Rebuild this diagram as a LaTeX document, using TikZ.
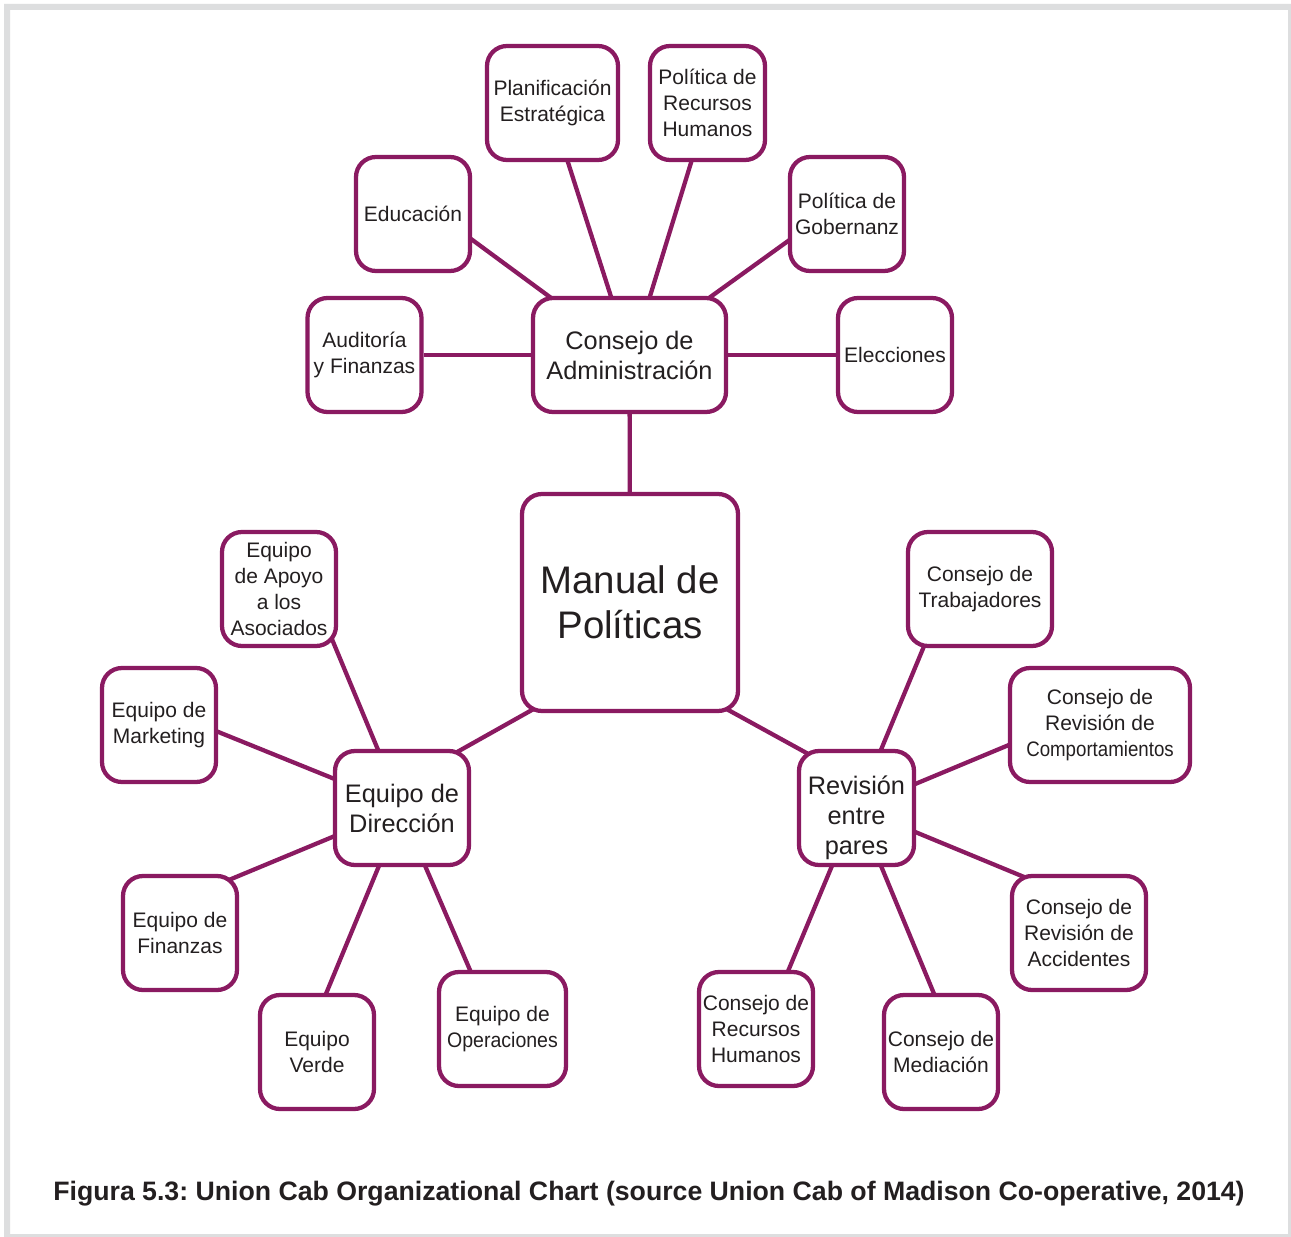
\documentclass[tikz,border=0pt]{standalone}
\usepackage{fontspec}
\usepackage{graphicx}
\usetikzlibrary{backgrounds}
\setmainfont{Liberation Sans}
\frenchspacing
\definecolor{pur}{HTML}{8A1A61}
\definecolor{txt}{HTML}{231F20}
\definecolor{frame}{HTML}{DDDEDF}
\begin{document}
\begin{tikzpicture}[x=0.75pt,y=-0.75pt,
  box/.style={draw=pur, line width=3.2pt, rounded corners=15pt, fill=white,
    align=center, inner sep=0pt, text=txt,
    minimum width=85.5pt, minimum height=85.5pt,
    font=\fontsize{15.75}{19.5}\selectfont},
  bigbox/.style={box, font=\fontsize{19}{22.5}\selectfont},
  link/.style={draw=pur, line width=3.2pt}]
\useasboundingbox (0,0) rectangle (1291,1237);

% centre and hubs
\node[box, minimum width=162pt, minimum height=162.75pt,
      font=\fontsize{28.8}{33.75}\selectfont] (man) at (630,602.5) {Manual de\\Políticas};
\node[bigbox, minimum width=144.75pt] (cons) at (629.5,355) {Consejo de\\Administración};
\node[bigbox, minimum width=100.5pt] (dir) at (402,808) {Equipo de\\Dirección};
\node[bigbox, minimum width=86.25pt] (rev) at (856.5,808)
  {\raisebox{-12.25pt}[0pt][0pt]{\begin{tabular}{@{}c@{}}Revisión\\entre\\pares\end{tabular}}};

% board committees
\node[box] (aud) at (364.5,355) {Auditoría\\y Finanzas};
\node[box] (educ) at (413,214) {Educación};
\node[box, minimum width=98.25pt] (plan) at (552.5,103) {Planificación\\Estratégica};
\node[box, minimum width=86.25pt] (polrh) at (707.5,103) {Política de\\Recursos\\Humanos};
\node[box] (gob) at (847,214) {Política de\\Gobernanz};
\node[box] (elec) at (895,355) {Elecciones};

% management teams
\node[box] (apoyo) at (279,589) {Equipo\\de Apoyo\\a los\\Asociados};
\node[box] (mkt) at (159,725) {Equipo de\\Marketing};
\node[box] (fin) at (180,933) {Equipo de\\Finanzas};
\node[box] (verde) at (317,1052) {Equipo\\Verde};
\node[box, minimum width=95.25pt] (ops) at (502.5,1029) {Equipo de\\\scalebox{0.93}[1]{Operaciones}};

% peer review councils
\node[box, minimum width=108pt] (trab) at (980,589) {Consejo de\\Trabajadores};
\node[box, minimum width=135pt] (comp) at (1100,725) {Consejo de\\Revisión de\\\scalebox{0.89}[1]{Comportamientos}};
\node[box, minimum width=100.5pt] (acc) at (1079,933) {Consejo de\\Revisión de\\Accidentes};
\node[box] (med) at (941,1052) {Consejo de\\Mediación};
\node[box] (rh) at (756,1029) {Consejo de\\Recursos\\Humanos};

% caption
\node[font=\bfseries\fontsize{20}{24}\selectfont, text=txt] (cap) at (649,1194)
  {Figura 5.3: Union Cab Organizational Chart (source Union Cab of Madison Co-operative, 2014)};

\begin{scope}[on background layer]
% page and frame
\fill[white] (0,0) rectangle (1291,1237);
\fill[frame,even odd rule] (4,4) rectangle (1291,1237) (10,10) rectangle (1288,1234);

% connectors, drawn behind the boxes
\path[link] (man) -- (cons);
\path[link] (cons) -- (aud);
\path[link] (cons) -- (elec);
\path[link] ([shift={(-71.5,-52)}]cons.center) -- ([shift={(54,22)}]educ.center);
\path[link] ([shift={(-15.5,-49)}]cons.center) -- ([shift={(12.5,50)}]plan.center);
\path[link] ([shift={(17.5,-49)}]cons.center) -- ([shift={(-13.5,50)}]polrh.center);
\path[link] ([shift={(72.5,-52)}]cons.center) -- ([shift={(-52,22)}]gob.center);

\path[link] ([shift={(-91,103.5)}]man.center) -- ([shift={(48,-52)}]dir.center);
\path[link] ([shift={(91,103.5)}]man.center) -- ([shift={(-44.5,-52)}]rev.center);

\path[link] ([shift={(-21,-51)}]dir.center) -- ([shift={(50,43)}]apoyo.center);
\path[link] ([shift={(-60,-26)}]dir.center) -- ([shift={(52,4)}]mkt.center);
\path[link] ([shift={(-60,25)}]dir.center) -- ([shift={(44,-51)}]fin.center);
\path[link] ([shift={(-21,53)}]dir.center) -- ([shift={(6,-51)}]verde.center);
\path[link] ([shift={(21,53)}]dir.center) -- ([shift={(-29.5,-52)}]ops.center);

\path[link] ([shift={(21.5,-51)}]rev.center) -- ([shift={(-53,50)}]trab.center);
\path[link] ([shift={(51.5,-21)}]rev.center) -- ([shift={(-84,17)}]comp.center);
\path[link] ([shift={(51.5,21)}]rev.center) -- ([shift={(-50,-54)}]acc.center);
\path[link] ([shift={(22.5,53)}]rev.center) -- ([shift={(-4,-51)}]med.center);
\path[link] ([shift={(-22.5,53)}]rev.center) -- ([shift={(30,-53)}]rh.center);
\end{scope}
\end{tikzpicture}
\end{document}
